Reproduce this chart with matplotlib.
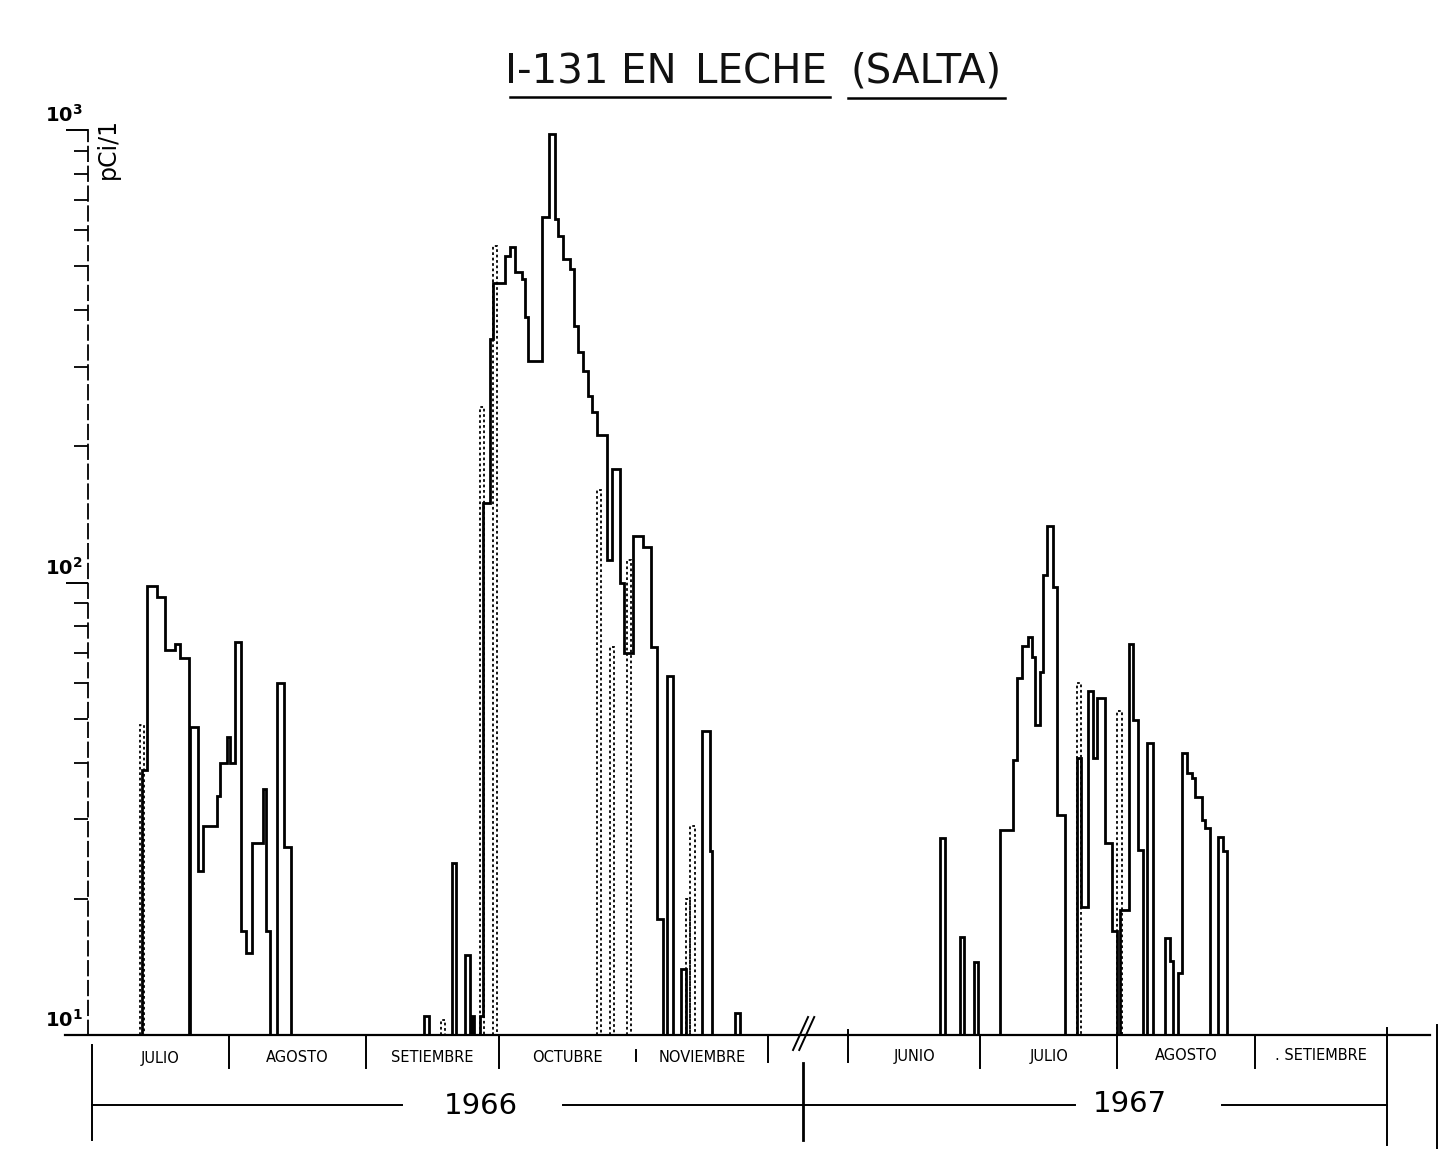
import numpy as np
import matplotlib.pyplot as plt
from matplotlib.ticker import LogLocator, NullFormatter

plt.rcParams['font.family'] = ['DejaVu Sans']

# x en dias desde el 1 de julio de 1966 (junio 1967 empieza en el dia 171, tras el corte)
jul_ago66_edges = [11.3, 12.4, 14.7, 16.5, 18.8, 19.9, 21.9, 22.2, 24.0, 25.1, 28.3, 29.0,
                   30.5, 31.2, 32.4, 33.7, 34.8, 36.2, 38.7, 39.4, 40.3, 41.9, 43.4, 45.0]
jul_ago66_pci = [38.5, 98, 93, 71, 73, 68, 10, 48, 23, 29, 33.7, 40, 45.6, 40, 74, 17,
                 15.2, 26.6, 35, 17, 10, 60, 26]

set_nov66_edges = [75.1, 76.2, 81.4, 82.4, 84.4, 85.5, 86.0, 86.4, 87.8, 88.5, 90.0, 90.7,
                   93.4, 94.6, 95.7, 97.3, 98.0, 98.6, 101.8, 103.4, 104.8, 105.4, 106.6,
                   108.1, 109.0, 110.0, 111.1, 112.2, 113.1, 114.3, 116.5, 117.6, 119.5,
                   120.4, 122.4, 124.7, 126.5, 127.8, 129.2, 130.1, 131.4, 133.3, 134.4,
                   138.0, 139.8, 140.3, 145.5, 146.6]
set_nov66_pci = [11, 10, 24, 10, 15, 10, 11, 10, 11, 150, 345, 460, 526, 551, 485, 468, 387,
                 308, 643, 980, 636, 582, 519, 493, 368, 323, 293, 258, 238, 212, 112, 178,
                 100, 70, 127, 120, 72, 18, 10, 62, 10, 14, 10, 47, 25.5, 10, 11.2]

jun_ago67_edges = [191.9, 193.0, 196.4, 197.3, 199.5, 200.5, 205.4, 208.4, 209.3, 210.4,
                   211.8, 212.7, 213.3, 214.5, 215.2, 216.1, 217.4, 218.3, 220.1, 222.9,
                   223.8, 225.3, 226.5, 227.4, 229.2, 230.8, 231.9, 232.6, 234.6, 235.5,
                   236.7, 237.8, 238.7, 240.0, 242.8, 243.9, 244.6, 245.7, 246.6, 247.7,
                   248.9, 249.5, 251.1, 251.8, 252.9, 254.8, 255.9, 256.8]
jun_ago67_pci = [27.3, 10, 16.5, 10, 14.5, 10, 28.4, 40.5, 61.6, 72.5, 75.6, 68.5, 48.5,
                 63.5, 104, 133, 97.5, 30.6, 10, 41, 19.2, 57.5, 41, 55.5, 26.6, 17, 10,
                 18.9, 73, 49.7, 25.7, 10, 44.3, 10, 16.4, 14.6, 10, 13.7, 42, 38, 37,
                 33.5, 29.9, 28.7, 10, 27.4, 25.5]

# muestras trazadas en punteado
punt_ini = [10.9, 79.0, 87.8, 90.7, 114.3, 117.2, 121.0, 134.4, 135.3, 222.9, 231.9]
punt_fin = [11.8, 79.9, 88.7, 91.6, 115.2, 118.1, 121.9, 135.3, 136.4, 223.8, 233.0]
punt_pci = [48.5, 10.8, 244, 554, 160, 72, 112, 20, 29, 60, 52]

meses_66 = ['JULIO', 'AGOSTO', 'SETIEMBRE', 'OCTUBRE', 'NOVIEMBRE']
dias_66 = [31, 31, 30, 31, 30]
meses_67 = ['JUNIO', 'JULIO', 'AGOSTO', '. SETIEMBRE']
dias_67 = [30, 31, 31, 30]
inicio_67 = 171

W, H = 1445, 1149
fig = plt.figure(figsize=(W / 100, H / 100), dpi=100)
ax = fig.add_axes([65 / W, 1 - 1035 / H, 1365 / W, 905 / H])

def fy(py):
    # pixel vertical -> fraccion de ejes
    return (1035 - py) / 905

ax.stairs(jul_ago66_pci, jul_ago66_edges, baseline=10, color='black', lw=2.0)
ax.stairs(set_nov66_pci, set_nov66_edges, baseline=10, color='black', lw=2.0)
ax.stairs(jun_ago67_pci, jun_ago67_edges, baseline=10, color='black', lw=2.0)
for a, b, v in zip(punt_ini, punt_fin, punt_pci):
    ax.stairs([v], [a, b], baseline=10, color='black', lw=1.3, linestyle=(0, (1.5, 1.5)))

ax.set_yscale('log')
ax.set_ylim(10, 1000)
ax.set_xlim(-6.1, 302.7)
ax.yaxis.set_major_locator(LogLocator(base=10))
ax.yaxis.set_minor_locator(LogLocator(base=10, subs=np.arange(2, 10)))
ax.yaxis.set_major_formatter(NullFormatter())
ax.yaxis.set_minor_formatter(NullFormatter())
ax.tick_params(axis='y', which='major', direction='out', length=16, width=1.4)
ax.tick_params(axis='y', which='minor', direction='out', length=10, width=1.3)
ax.set_xticks([])
ax.spines['right'].set_color('none')
ax.spines['top'].set_color('none')
ax.spines['left'].set_position(('data', -0.9))
ax.spines['left'].set_linewidth(1.3)
ax.spines['left'].set_linestyle((0, (8, 3)))
ax.spines['bottom'].set_linewidth(1.6)

for v, lab in [(1000, r'$\mathbf{10}^{\mathbf{3}}$'), (100, r'$\mathbf{10}^{\mathbf{2}}$'),
               (10, r'$\mathbf{10}^{\mathbf{1}}$')]:
    ax.text(-6.3, v * 1.02, lab, ha='center', va='bottom', fontsize=14)

fig.text(108 / W, 1 - 148 / H, 'pCi/1', rotation=90, ha='center', va='center', fontsize=17)

# titulo
for txt, px in [('I-131', 557), ('EN', 649), ('LECHE', 761), ('(SALTA)', 926)]:
    fig.text(px / W, 1 - 72 / H, txt, ha='center', va='center', fontsize=29, color='#111111')
fig.add_artist(plt.Line2D([510 / W, 830 / W], [1 - 97 / H] * 2, color='black', lw=1.8))
fig.add_artist(plt.Line2D([848 / W, 1005 / W], [1 - 98 / H] * 2, color='black', lw=1.8))

xt = ax.get_xaxis_transform()
lk = dict(color='black', lw=1.4, transform=xt, clip_on=False)

# meses
bordes_66 = np.concatenate([[0], np.cumsum(dias_66)])
bordes_67 = inicio_67 + np.concatenate([[0], np.cumsum(dias_67)])
for i, m in enumerate(meses_66):
    ax.text((bordes_66[i] + bordes_66[i + 1]) / 2, fy(1058), m, transform=xt,
            ha='center', va='center', fontsize=10.5)
for i, m in enumerate(meses_67):
    ax.text((bordes_67[i] + bordes_67[i + 1]) / 2, fy(1056), m, transform=xt,
            ha='center', va='center', fontsize=10.5)
for b in list(bordes_66[1:4]) + list(bordes_67[1:4]):
    ax.plot([b, b], [fy(1035), fy(1068)], **lk)
ax.plot([bordes_66[4]] * 2, [fy(1050), fy(1061)], **lk)
ax.plot([bordes_66[5]] * 2, [fy(1035), fy(1062)], **lk)
ax.plot([bordes_67[0]] * 2, [fy(1030), fy(1062)], **lk)

# corte //
for dx in [0, 1.4]:
    ax.plot([158.6 + dx, 162.0 + dx], [fy(1050), fy(1017)], **lk)

# llaves de los años
ax.plot([0, 0], [fy(1045), fy(1140)], **lk)
ax.plot([160.9, 160.9], [fy(1063), fy(1140)], color='black', lw=2.0, transform=xt, clip_on=False)
ax.plot([bordes_67[4]] * 2, [fy(1028), fy(1145)], **lk)
ax.plot([304.3, 304.3], [fy(1025), fy(1150)], **lk)
ax.plot([0, 70.1], [fy(1105)] * 2, **lk)
ax.plot([106.6, 222.4], [fy(1105)] * 2, **lk)
ax.plot([255.7, bordes_67[4]], [fy(1105)] * 2, **lk)
ax.text(88.0, fy(1106), '1966', transform=xt, ha='center', va='center', fontsize=21)
ax.text(234.8, fy(1104), '1967', transform=xt, ha='center', va='center', fontsize=21)

fig.savefig('out.png', dpi=100, facecolor='white')
